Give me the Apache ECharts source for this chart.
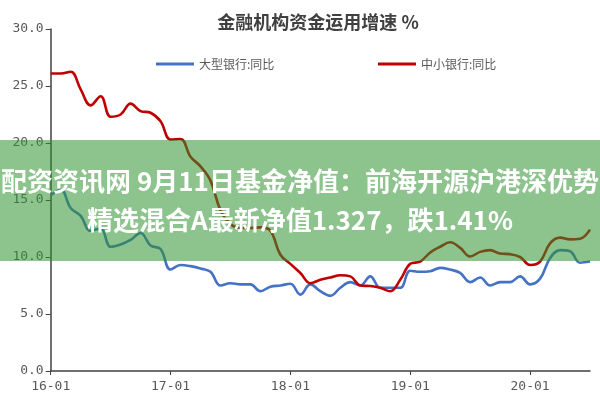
<!DOCTYPE html>
<html><head><meta charset="utf-8">
<script src="https://cdn.jsdelivr.net/npm/echarts@6/dist/echarts.min.js"></script>
<style>html,body{margin:0;padding:0;background:#fff}#c{width:600px;height:400px}</style>
</head><body><div id="c"></div>
<script>
// months 2016-01 .. 2020-07
const categories = [];
for (let y = 16; y <= 20; y++) for (let m = 1; m <= 12; m++) {
  if (y === 20 && m > 7) break;
  categories.push(y + '-' + (m < 10 ? '0' + m : m));
}
const seriesNames = ['大型银行:同比', '中小银行:同比'];
const largeBanks = [15.4,15.9,14.3,13.6,12.3,12.5,10.9,11.1,11.5,12.1,11.0,10.7,
  8.9,9.3,9.2,9.0,8.7,7.5,7.7,7.6,7.6,7.0,7.4,7.5,
  7.65,6.7,7.6,7.0,6.6,7.3,7.8,7.5,8.3,7.3,7.3,7.3,
  8.8,8.7,8.75,9.05,8.9,8.6,7.8,8.2,7.5,7.8,7.8,8.3,
  7.6,8.1,9.9,10.6,10.5,9.5,9.6];
const smallBanks = [26.1,26.1,26.25,24.7,23.3,24.1,22.3,22.5,23.45,22.8,22.65,21.9,
  20.3,20.35,18.8,17.95,16.7,14.1,12.9,12.55,12.55,12.6,12.3,10.2,
  9.4,8.6,7.7,8.0,8.2,8.4,8.3,7.5,7.45,7.3,7.0,8.0,
  9.4,9.6,10.4,10.9,11.3,10.8,10.05,10.45,10.6,10.3,10.25,10.0,
  9.3,9.6,11.2,11.7,11.55,11.6,12.4];
const titleText = '金融机构资金运用增速 %';
const bannerLines = ['配资资讯网 9月11日基金净值：前海开源沪港深优势', '精选混合A最新净值1.327，跌1.41%'];

const chart = echarts.init(document.getElementById('c'), null, {renderer: 'canvas'});
const mono = 'DejaVu Sans Mono';
const cjk = '"Noto Sans CJK SC", sans-serif';
chart.setOption({
  animation: false,
  backgroundColor: '#fff',
  title: {
    text: titleText, left: 313, top: 8, textAlign: 'center',
    textStyle: {fontFamily: cjk, fontSize: 18, fontWeight: 'bold', color: '#404040'}
  },
  legend: [
    {data: [seriesNames[0]], left: 151, top: 53, icon: 'rect', itemWidth: 38, itemHeight: 3,
     textStyle: {fontFamily: cjk, fontSize: 12, color: '#595959'}},
    {data: [seriesNames[1]], left: 373, top: 53, icon: 'rect', itemWidth: 38, itemHeight: 3,
     textStyle: {fontFamily: cjk, fontSize: 12, color: '#595959'}}
  ],
  grid: {left: 50.7, right: 10, top: 29, bottom: 29, containLabel: false},
  xAxis: {
    type: 'category', data: categories, boundaryGap: false,
    axisLine: {lineStyle: {color: '#404040', width: 1.5}},
    axisTick: {interval: 11, length: 4, lineStyle: {color: '#404040'}},
    axisLabel: {interval: 11, fontFamily: mono, fontSize: 13, color: '#595959', margin: 9},
    splitLine: {show: false}
  },
  yAxis: {
    type: 'value', min: 0, max: 30, interval: 5,
    axisLine: {show: true, lineStyle: {color: '#404040', width: 1.5}},
    axisTick: {show: true, length: 5, lineStyle: {color: '#404040'}},
    axisLabel: {formatter: v => v.toFixed(1), fontFamily: mono, fontSize: 13, color: '#595959', margin: 7},
    splitLine: {show: false}
  },
  series: [
    {name: seriesNames[0], type: 'line', data: largeBanks, smooth: 0.4, symbol: 'none',
     lineStyle: {color: '#4472C4', width: 2.6}, itemStyle: {color: '#4472C4'}},
    {name: seriesNames[1], type: 'line', data: smallBanks, smooth: 0.4, symbol: 'none',
     lineStyle: {color: '#C00000', width: 2.6}, itemStyle: {color: '#C00000'}}
  ],
  graphic: [
    {type: 'rect', z: 100, shape: {x: 0, y: 140, width: 600, height: 121},
     style: {fill: 'rgba(47,145,47,0.55)'}},
    {type: 'text', z: 101, x: 300, y: 181,
     style: {text: bannerLines[0], fill: '#fff', font: 'bold 26px "Noto Sans CJK SC"', align: 'center', verticalAlign: 'middle'}},
    {type: 'text', z: 101, x: 300, y: 220,
     style: {text: bannerLines[1], fill: '#fff', font: 'bold 26px "Noto Sans CJK SC"', align: 'center', verticalAlign: 'middle'}}
  ]
});
</script></body></html>
